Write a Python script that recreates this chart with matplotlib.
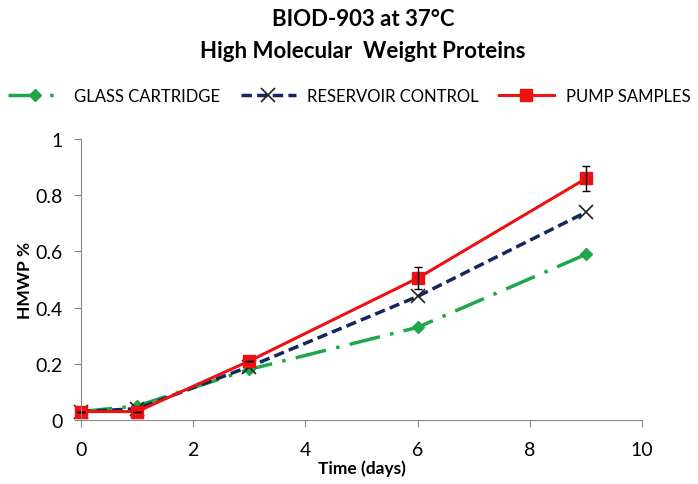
import matplotlib.pyplot as plt

plt.rcParams['font.family'] = ['Lato', 'DejaVu Sans']

# data
days = [0, 1, 3, 6, 9]
glass = [0.03, 0.05, 0.18, 0.33, 0.59]
reservoir = [0.03, 0.04, 0.19, 0.44, 0.74]
pump = [0.03, 0.03, 0.21, 0.505, 0.86]
pump_err = [0, 0, 0, 0.038, 0.043]

fig = plt.figure(figsize=(6.98, 4.85), dpi=100)
ax = fig.add_axes([0.116, 0.132, 0.804, 0.579])

ax.plot(days, glass, color='#1fa64a', linestyle=(0, (9, 3, 1, 3)), linewidth=2.5,
        marker='D', markersize=6, label='GLASS CARTRIDGE')
ax.plot(days, reservoir, color='#14265e', linestyle=(0, (3, 1.5)), linewidth=2.5,
        marker='x', markersize=10, markeredgewidth=1.2, markeredgecolor='#222222',
        label='RESERVOIR CONTROL')
ax.plot(days, pump, color='#ee1111', linewidth=2.2, marker='s', markersize=8,
        label='PUMP SAMPLES')
ax.errorbar(days, pump, yerr=pump_err, fmt='none', ecolor='black',
            elinewidth=1, capsize=3)

ax.set_xlim(0, 10)
ax.set_ylim(0, 1)
ax.set_xticks([0, 2, 4, 6, 8, 10])
ax.set_yticks([0, 0.2, 0.4, 0.6, 0.8, 1])
ax.set_yticklabels(['0', '0.2', '0.4', '0.6', '0.8', '1'])
ax.tick_params(labelsize=14, color='#888888', length=5, direction='out')
ax.tick_params(axis='x', pad=10)
ax.tick_params(axis='y', pad=8)
for side in ['top', 'right']:
    ax.spines[side].set_visible(False)
for side in ['left', 'bottom']:
    ax.spines[side].set_color('#888888')

ax.set_xlabel('Time (days)', fontsize=12.5, fontweight='bold', labelpad=1)
ax.set_ylabel('HMWP %', fontsize=12.5, fontweight='bold', labelpad=2)

fig.text(0.52, 0.96, 'BIOD-903 at 37°C', ha='center', va='center',
         fontsize=16, fontweight='bold')
fig.text(0.52, 0.893, 'High Molecular  Weight Proteins', ha='center', va='center',
         fontsize=16, fontweight='bold')

ax.legend(loc='center', bbox_to_anchor=(0.5, 0.8, 0, 0), bbox_transform=fig.transFigure,
          ncol=3, frameon=False, fontsize=12, handlelength=3.3, columnspacing=1.2,
          handletextpad=0.7)
for l in ax.lines:
    l.set_clip_on(False)

fig.savefig('out.png', dpi=100)
